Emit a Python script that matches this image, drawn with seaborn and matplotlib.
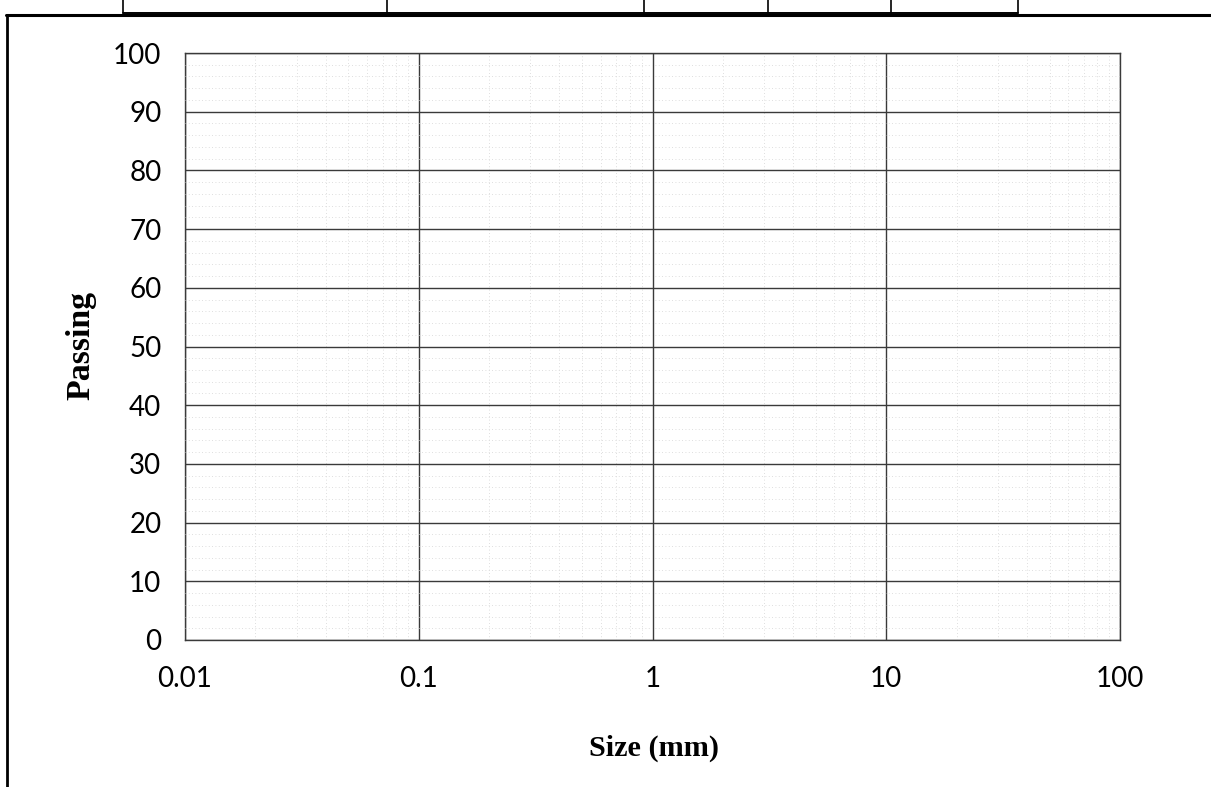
import numpy as np
import pandas as pd
import matplotlib
matplotlib.use("Agg")
import matplotlib.pyplot as plt
from matplotlib.lines import Line2D
from matplotlib.ticker import FixedLocator, NullFormatter
import seaborn as sns

# ---- data (an empty grading chart) ----
size_ticks = [0.01, 0.1, 1, 10, 100]
size_labels = ["0.01", "0.1", "1", "10", "100"]
passing_ticks = [0, 10, 20, 30, 40, 50, 60, 70, 80, 90, 100]
passing_minor = [2, 4, 6, 8]
x_label = "Size (mm)"
y_label = "Passing"
size_values = []      # no series plotted
passing_values = []

sns.set_theme(style="white")
plt.rcParams["font.family"] = ["Lato", "DejaVu Sans"]
plt.rcParams["text.color"] = "black"
plt.rcParams["axes.labelcolor"] = "black"

W, H = 1211, 787
fig = plt.figure(figsize=(W / 100, H / 100), dpi=100)
ax = fig.add_axes([185 / W, 1 - 640 / H, (1120 - 185) / W, (640 - 53) / H])

df = pd.DataFrame({"size": pd.Series(size_values, dtype=float),
                   "passing": pd.Series(passing_values, dtype=float)})
sns.lineplot(data=df, x="size", y="passing", ax=ax)

ax.set_xscale("log")
ax.set_xlim(size_ticks[0], size_ticks[-1])
ax.set_ylim(passing_ticks[0], passing_ticks[-1])

ax.set_xticks(size_ticks)
ax.set_xticklabels(size_labels)
ax.set_yticks(passing_ticks)
ax.set_yticklabels([str(v) for v in passing_ticks])

minor_x = [d * m for d in size_ticks[:-1] for m in range(2, 10)]
ax.xaxis.set_minor_locator(FixedLocator(minor_x))
ax.xaxis.set_minor_formatter(NullFormatter())
minor_y = [b + m for b in passing_ticks[:-1] for m in passing_minor]
ax.yaxis.set_minor_locator(FixedLocator(minor_y))

ax.grid(which="major", color="#3a3a3a", linewidth=1.0, linestyle="-")
ax.grid(which="minor", color="#d4d4d4", linewidth=0.6, linestyle=(0, (1, 3)))
ax.set_axisbelow(False)

for s in ax.spines.values():
    s.set_color("#3a3a3a")
    s.set_linewidth(1.0)

ax.tick_params(axis="both", which="major", direction="out", length=4,
               width=1, color="#3a3a3a", labelsize=20, labelcolor="black")
ax.tick_params(axis="x", which="major", pad=15)
ax.tick_params(axis="y", which="major", pad=13)
ax.tick_params(axis="both", which="minor", length=0)

ax.set_xlabel(x_label, fontsize=21.8, fontweight="bold", color="black",
              family=["Liberation Serif", "DejaVu Serif"])
ax.set_ylabel(y_label, fontsize=24.4, fontweight="bold", color="black",
              family=["Liberation Serif", "DejaVu Serif"])
ax.xaxis.set_label_coords(0.5016, -0.161)
ax.yaxis.set_label_coords(-0.095, 0.501)

# ---- page frame and table fragment from the scan ----
def fx(px):
    return px / W

def fy(py):
    return 1 - py / H

fig.add_artist(Line2D([fx(6), fx(1211)], [fy(15), fy(15)], color="black", lw=2.2))
fig.add_artist(Line2D([fx(7), fx(7)], [fy(15), fy(787)], color="black", lw=2.0))
fig.add_artist(Line2D([fx(123), fx(1018)], [fy(13), fy(13)], color="black", lw=1.4))
for vx in [123, 387, 644, 768, 891, 1018]:
    fig.add_artist(Line2D([fx(vx), fx(vx)], [fy(0), fy(13)], color="black", lw=1.2))

fig.savefig("out.png", dpi=100, facecolor="white")
